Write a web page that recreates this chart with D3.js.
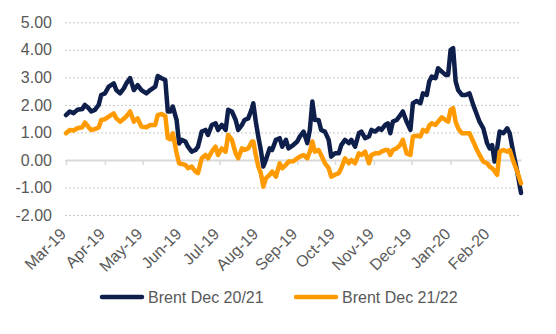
<!DOCTYPE html>
<html>
<head>
<meta charset="utf-8">
<script src="https://cdn.jsdelivr.net/npm/d3@7"></script>
<style>
    body { margin: 0; background: #fff; }
    svg { display: block; font-family: "Liberation Sans", Arial, sans-serif; }
</style>
</head>
<body>
<svg id="chart" width="556" height="334"></svg>
<script>
// Brent spreads: Dec 20/21 and Dec 21/22, $/bbl
const dates = [
    "2019-03-01","2019-03-04","2019-03-07","2019-03-10","2019-03-14","2019-03-16","2019-03-19","2019-03-21","2019-03-24","2019-03-27","2019-03-29",
    "2019-04-01","2019-04-04","2019-04-08","2019-04-10","2019-04-13","2019-04-16","2019-04-18","2019-04-21","2019-04-24","2019-04-27","2019-04-30",
    "2019-05-04","2019-05-07","2019-05-11","2019-05-13","2019-05-16","2019-05-19","2019-05-21","2019-05-23","2019-05-25","2019-05-28","2019-05-30",
    "2019-06-01","2019-06-04","2019-06-06","2019-06-09","2019-06-12","2019-06-14","2019-06-17","2019-06-20","2019-06-22","2019-06-25","2019-06-28","2019-06-30",
    "2019-07-03","2019-07-06","2019-07-08","2019-07-11","2019-07-14","2019-07-16","2019-07-19","2019-07-21","2019-07-24","2019-07-27","2019-07-28","2019-07-30",
    "2019-08-01","2019-08-03","2019-08-05","2019-08-07","2019-08-10","2019-08-12","2019-08-15","2019-08-18","2019-08-20","2019-08-23","2019-08-25","2019-08-29",
    "2019-09-01","2019-09-03","2019-09-06","2019-09-09","2019-09-11","2019-09-13","2019-09-15","2019-09-18","2019-09-20","2019-09-23","2019-09-26","2019-09-28",
    "2019-10-01","2019-10-04","2019-10-06","2019-10-09","2019-10-12","2019-10-14","2019-10-17","2019-10-20","2019-10-22","2019-10-25","2019-10-28","2019-10-30",
    "2019-11-02","2019-11-05","2019-11-07","2019-11-10","2019-11-12","2019-11-14","2019-11-16","2019-11-19","2019-11-22","2019-11-24","2019-11-27","2019-11-30",
    "2019-12-02","2019-12-05","2019-12-08","2019-12-10","2019-12-13","2019-12-15","2019-12-17","2019-12-20","2019-12-22","2019-12-25","2019-12-28","2019-12-30",
    "2020-01-01","2020-01-03","2020-01-05","2020-01-07","2020-01-10","2020-01-13","2020-01-16","2020-01-19","2020-01-22","2020-01-24","2020-01-27","2020-01-30",
    "2020-02-01","2020-02-03","2020-02-05","2020-02-07","2020-02-09","2020-02-12","2020-02-15","2020-02-17","2020-02-20","2020-02-23","2020-02-26"
];

const brentDec2021 = [
    1.63,1.76,1.70,1.82,1.85,2.00,1.88,1.76,1.82,2.00,2.36,
    2.42,2.66,2.78,2.54,2.42,2.60,2.78,2.97,2.54,2.72,2.54,
    2.42,2.54,2.66,3.05,2.97,2.90,1.76,1.76,1.94,1.45,0.60,
    0.73,0.67,0.48,0.30,0.36,0.48,1.03,1.09,0.91,1.27,1.33,1.09,
    1.27,1.09,1.82,1.76,1.45,1.09,1.27,1.45,1.51,1.88,2.06,1.39,
    0.85,0.36,-0.24,0.00,0.42,0.36,0.73,0.79,0.48,0.73,0.42,0.55,
    0.67,0.85,1.03,0.61,1.09,2.12,1.45,1.45,1.09,1.03,0.73,0.12,
    0.24,0.24,0.54,0.73,0.61,0.73,0.48,0.97,1.03,0.79,0.85,1.09,
    1.03,1.15,1.09,1.27,1.33,0.97,1.39,1.45,1.63,1.76,1.39,1.09,
    2.06,2.14,2.06,2.42,2.36,2.85,3.03,2.97,3.33,3.21,3.09,3.09,
    4.00,4.06,2.85,2.54,2.36,2.36,2.42,2.00,1.63,1.39,1.15,0.61,
    0.42,0.54,-0.06,0.42,1.03,0.97,1.15,0.97,0.24,-0.42,-1.20
];

const brentDec2122 = [
    0.97,1.09,1.07,1.15,1.19,1.36,1.19,1.09,1.12,1.18,1.45,
    1.48,1.57,1.69,1.51,1.39,1.50,1.58,1.76,1.39,1.51,1.21,
    1.19,1.27,1.27,1.63,1.67,1.60,0.79,0.75,0.97,0.24,-0.12,
    -0.15,-0.18,-0.30,-0.24,-0.42,-0.48,0.06,0.18,0.06,0.30,0.48,0.18,
    0.42,0.30,0.91,0.73,0.24,0.06,0.42,0.36,0.42,0.67,0.67,0.18,
    -0.24,-0.48,-0.97,-0.67,-0.54,-0.42,-0.61,-0.12,-0.30,-0.18,-0.06,-0.05,
    0.06,0.12,0.18,0.06,0.30,0.67,0.30,0.36,0.18,-0.12,-0.30,-0.61,
    -0.54,-0.48,-0.30,0.06,-0.12,0.00,-0.12,0.24,0.18,0.30,-0.12,0.18,
    0.24,0.24,0.30,0.36,0.36,0.18,0.36,0.42,0.55,0.73,0.24,0.18,
    0.85,0.88,0.85,1.09,1.03,1.25,1.33,1.27,1.39,1.55,1.45,1.39,
    1.82,1.88,1.39,1.15,0.97,0.97,0.97,0.67,0.36,0.18,-0.06,-0.12,
    -0.24,-0.30,-0.40,-0.54,0.30,0.36,0.30,0.36,-0.06,-0.42,-0.85
];

const seriesNames = ["Brent Dec 20/21", "Brent Dec 21/22"];
const seriesColors = ["#0f1f4b", "#ff9a00"];
const yTicks = [-2, -1, 0, 1, 2, 3, 4, 5];
const monthTicks = ["Mar-19","Apr-19","May-19","Jun-19","Jul-19","Aug-19","Sep-19","Oct-19","Nov-19","Dec-19","Jan-20","Feb-20"];

const parseDay = d3.timeParse("%Y-%m-%d");
const parseMonth = d3.timeParse("%b-%y");

const series = [brentDec2021, brentDec2122].map((values, i) => ({
    name: seriesNames[i],
    color: seriesColors[i],
    points: values.map((v, j) => ({date: parseDay(dates[j]), value: v}))
}));

// zone de tracé
const plot = {left: 65, right: 521, top: 22, bottom: 215};

const svg = d3.select("#chart");
svg.append("rect").attr("width", 556).attr("height", 334).attr("fill", "#fff");

const x = d3.scaleTime()
    .domain([parseDay(dates[0]), parseDay(dates[dates.length - 1])])
    .range([plot.left + 1, plot.right]);

const y = d3.scaleLinear()
    .domain([d3.min(yTicks), d3.max(yTicks)])
    .range([plot.bottom, plot.top + 0.3]);

// grille horizontale pointillée
svg.append("g")
    .attr("transform", `translate(${plot.left},0)`)
    .call(d3.axisLeft(y).tickValues(yTicks).tickSize(-(plot.right - plot.left)).tickFormat(""))
    .call(g => g.select(".domain").remove())
    .call(g => g.selectAll(".tick line")
        .attr("stroke", "#c9c9c9")
        .attr("stroke-width", 1)
        .attr("stroke-dasharray", "2,2"));

// libellés de l'axe vertical
svg.append("g")
    .attr("transform", `translate(${plot.left - 2},0)`)
    .call(d3.axisLeft(y).tickValues(yTicks).tickSize(0).tickPadding(11).tickFormat(d => d.toFixed(2)))
    .call(g => g.select(".domain").remove())
    .call(g => g.selectAll("text")
        .attr("fill", "#595959")
        .style("font-size", "16px")
        .style("font-family", "'Liberation Sans', Arial, sans-serif"));

// axe horizontal sur le zéro, graduations mensuelles
svg.append("g")
    .attr("transform", `translate(0,${y(0)})`)
    .call(d3.axisBottom(x).tickValues(monthTicks.map(parseMonth)).tickSize(5).tickSizeOuter(0).tickFormat(""))
    .call(g => g.select(".domain").attr("stroke", "#d9d9d9").attr("stroke-width", 2))
    .call(g => g.selectAll(".tick line").attr("stroke", "#d9d9d9").attr("stroke-width", 1.5));

// libellés des mois en bas, inclinés
svg.append("g")
    .selectAll("text")
    .data(monthTicks)
    .join("text")
        .attr("transform", d => `translate(${x(parseMonth(d)) + 1},${plot.bottom + 20}) rotate(-45)`)
        .attr("text-anchor", "end")
        .attr("fill", "#595959")
        .style("font-size", "16px")
        .text(d => d);

// courbes
const line = d3.line()
    .x(d => x(d.date))
    .y(d => y(d.value));

svg.append("g")
    .selectAll("path")
    .data(series)
    .join("path")
        .attr("d", d => line(d.points))
        .attr("fill", "none")
        .attr("stroke", d => d.color)
        .attr("stroke-width", 4.5)
        .attr("stroke-linejoin", "round")
        .attr("stroke-linecap", "round");

// légende
const legend = svg.append("g")
    .attr("transform", "translate(100,297)")
    .selectAll("g")
    .data(series)
    .join("g")
        .attr("transform", (d, i) => `translate(${i * 194},0)`);

legend.append("line")
    .attr("x1", 2).attr("x2", 42)
    .attr("stroke", d => d.color)
    .attr("stroke-width", 4.5)
    .attr("stroke-linecap", "round");

legend.append("text")
    .attr("x", 48)
    .attr("dy", "0.35em")
    .attr("fill", "#595959")
    .style("font-size", "16px")
    .text(d => d.name);
</script>
</body>
</html>
